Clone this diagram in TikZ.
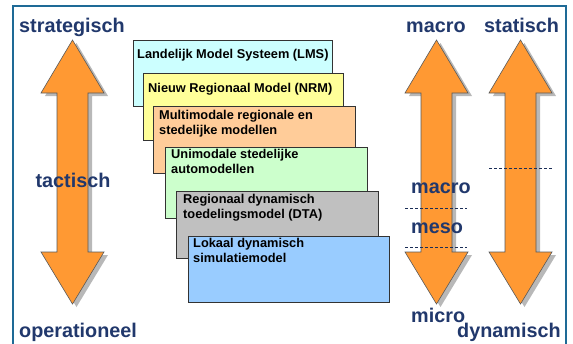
\documentclass[tikz,border=0pt]{standalone}
\usepackage{fontspec}
\setmainfont{Liberation Sans}
\definecolor{navy}{RGB}{33,56,108}
\definecolor{framecol}{RGB}{30,106,150}
\definecolor{arroworange}{RGB}{255,153,51}
\definecolor{lmscol}{RGB}{204,255,255}
\definecolor{nrmcol}{RGB}{255,255,153}
\definecolor{multicol}{RGB}{255,204,153}
\definecolor{unicol}{RGB}{204,255,204}
\definecolor{dtacol}{RGB}{192,192,192}
\definecolor{lokcol}{RGB}{153,204,255}
\tikzset{
  biglabel/.style={font=\fontsize{19.8}{22}\selectfont\bfseries, text=navy, inner sep=0pt},
  modelbox/.style={draw=black!80, line width=0.8pt, inner sep=0pt, anchor=north west,
    minimum width=#1},
  boxtext/.style={font=\fontsize{12.8}{15}\selectfont\bfseries, align=left, inner sep=0pt,
    anchor=north west},
  levelline/.style={draw=navy!80!black, line width=0.6pt, dash pattern=on 3pt off 2pt},
  arrowshadow/.style={fill=black, opacity=0.28},
  arrowbody/.style={fill=arroworange, draw=black!65, line width=0.6pt, line join=miter},
  dblarrow/.pic={
    \fill[arrowshadow, shift={(4,3)}]
      (0,40) -- (31.5,93) -- (15.5,93) -- (15.5,252) -- (31.5,252) -- (0,304)
      -- (-31.5,252) -- (-15.5,252) -- (-15.5,93) -- (-31.5,93) -- cycle;
    \filldraw[arrowbody]
      (0,40) -- (31.5,93) -- (15.5,93) -- (15.5,252) -- (31.5,252) -- (0,304)
      -- (-31.5,252) -- (-15.5,252) -- (-15.5,93) -- (-31.5,93) -- cycle;
  }
}
\begin{document}
\begin{tikzpicture}[x=1pt, y=-1pt]
  \useasboundingbox (0,0) rectangle (573,343);
  \fill[white] (0,0) rectangle (573,343);
  \clip (0,0) rectangle (573,343);

  % outer frame (open towards the bottom edge)
  \draw[framecol, line width=1.8pt] (13,6) rectangle (566,380);

  % double-headed arrows
  \pic at (72.5,0) {dblarrow};
  \pic at (436.5,0) {dblarrow};
  \pic at (520.5,0) {dblarrow};

  % axis labels
  \node[biglabel, anchor=base west] (strat) at (19,32) {strategisch};
  \node[biglabel, anchor=base] (tact) at (73,187) {tactisch};
  \node[biglabel, anchor=base west] (oper) at (19,337) {operationeel};
  \node[biglabel, anchor=base west] (macrotop) at (406,32) {macro};
  \node[biglabel, anchor=base west] (stat) at (484,32) {statisch};
  \node[biglabel, anchor=base west] (macromid) at (411,193) {macro};
  \node[biglabel, anchor=base west] (meso) at (411,233) {meso};
  \node[biglabel, anchor=base west] (micro) at (411,322) {micro};
  \node[biglabel, anchor=base west] (dyn) at (457,337) {dynamisch};

  % level separators
  \draw[levelline] (405,208) -- (467,208);
  \draw[levelline] (405,247) -- (467,247);
  \draw[levelline] (489,168) -- (552,168);

  % stacked model boxes
  \node[modelbox=199pt, minimum height=66pt, fill=lmscol] (lms) at (133,40) {};
  \node[boxtext] at ([shift={(4,9)}]lms.north west) {Landelijk Model Systeem (LMS)};

  \node[modelbox=200pt, minimum height=67pt, fill=nrmcol] (nrm) at (143,73) {};
  \node[boxtext] at ([shift={(5,10)}]nrm.north west) {Nieuw Regionaal Model (NRM)};

  \node[modelbox=202pt, minimum height=67pt, fill=multicol] (multi) at (153,106) {};
  \node[boxtext] at ([shift={(6,4)}]multi.north west) {Multimodale regionale en\\stedelijke modellen};

  \node[modelbox=202pt, minimum height=71pt, fill=unicol] (uni) at (165,147) {};
  \node[boxtext] at ([shift={(6,2)}]uni.north west) {Unimodale stedelijke\\automodellen};

  \node[modelbox=202pt, minimum height=67pt, fill=dtacol] (dta) at (176,191) {};
  \node[boxtext] at ([shift={(7,3)}]dta.north west) {Regionaal dynamisch\\toedelingsmodel (DTA)};

  \node[modelbox=201pt, minimum height=66pt, fill=lokcol] (lok) at (188,236) {};
  \node[boxtext] at ([shift={(5,2)}]lok.north west) {Lokaal dynamisch\\simulatiemodel};
\end{tikzpicture}
\end{document}
